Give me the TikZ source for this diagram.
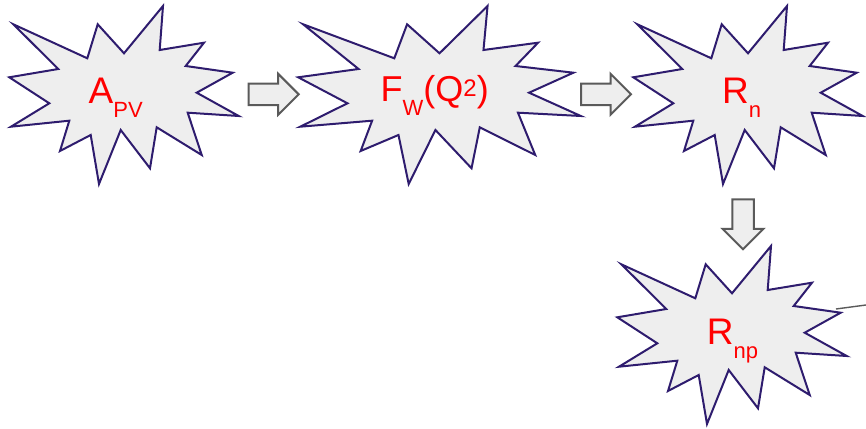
\documentclass[tikz,border=0pt]{standalone}
\usepackage{fontspec}
\setmainfont{Liberation Sans}
\usetikzlibrary{shapes.arrows}
\definecolor{BurstEdge}{HTML}{2E1C6E}
\definecolor{BurstFill}{HTML}{EEEEEE}
\definecolor{ArrEdge}{HTML}{5A5A5A}
\newcommand{\sublbl}[1]{\raisebox{-14pt}{\fontsize{22}{24}\selectfont #1}}
\newcommand{\suplbl}[1]{\raisebox{5pt}{\fontsize{24}{26}\selectfont #1}}
\tikzset{burst/.pic={
  \draw[burstline] (-110.7,70.7) -- (-36.7,36.7) -- (-26.3,70.7) -- (0,41.7) -- (39,89) -- (35.7,45)
    -- (80,52.3) -- (61.7,29) -- (108.7,22.3) -- (72.7,2.3) -- (114.7,-21) -- (63.7,-17.7)
    -- (77.7,-60) -- (32.7,-32.3) -- (26,-73.3) -- (-3.3,-35) -- (-25,-89) -- (-33.3,-40)
    -- (-64,-56) -- (-54.7,-25.7) -- (-113,-31.7) -- (-74.7,-8.3) -- (-114.7,17.7) -- (-65.7,26) -- cycle;
}}

\begin{document}
\begin{tikzpicture}[x=1pt,y=1pt, burstline/.style={draw=BurstEdge,fill=BurstFill,line width=2pt,line join=miter}, lbl/.style={anchor=base,text=red,inner sep=0pt,font=\fontsize{37}{40}\selectfont}, blk/.style={single arrow,draw=ArrEdge,fill=BurstFill,line width=2pt,minimum height=50pt,inner xsep=0pt,inner ysep=9.75pt,single arrow head extend=9.75pt,anchor=tail}]
\useasboundingbox (0,0) rectangle (866,428);
% bursts
\pic at (124,333) {burst};
\pic[xscale=1.232] at (439.5,333) {burst};
\pic at (748,333) {burst};
\pic at (732,93) {burst};
% labels
\node[lbl] (apv) at (115.7,324) {A\sublbl{PV}};
\node[lbl,font=\fontsize{36}{40}\selectfont] (fw) at (434.7,326.3) {F\sublbl{W}(Q\suplbl{2})};
\node[lbl] (rn) at (741.7,324) {R\sublbl{n}};
\node[lbl] (rnp) at (732.5,84) {R\sublbl{np}};
% block arrows
\node[blk] (ar1) at (247.7,333.7) {};
\node[blk] (ar2) at (580,333.7) {};
\node[blk,rotate=-90] (ar3) at (743,229.7) {};
\coordinate (tail) at (836,119);
\coordinate (edge) at (866,123);
\draw[ArrEdge,line width=1.4pt] (tail) -- (edge);
\end{tikzpicture}
\end{document}
